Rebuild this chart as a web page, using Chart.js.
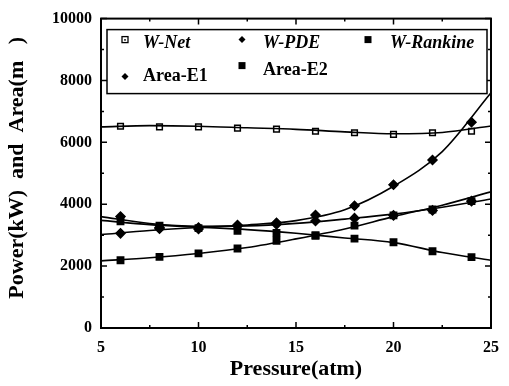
<!DOCTYPE html>
<html lang="en">
<head>
  <meta charset="UTF-8">
  <title>Power and Area vs Pressure</title>
  <script src="https://cdn.jsdelivr.net/npm/chart.js"></script>
  <style>
    html, body { margin: 0; padding: 0; background: #fff; }
    #wrap { width: 509px; height: 386px; }
  </style>
</head>
<body>
  <div id="wrap"><canvas id="powerChart" width="509" height="386"></canvas></div>

  <script>
    // measured points (pressure in atm)
    const pressure = [6, 8, 10, 12, 14, 16, 18, 20, 22, 24];
    const wNet     = [6520, 6500, 6500, 6460, 6430, 6360, 6310, 6260, 6310, 6360];
    const wPde     = [3060, 3210, 3250, 3330, 3400, 3650, 3950, 4630, 5430, 6650];
    const wRankine = [3450, 3310, 3230, 3140, 3070, 2990, 2890, 2770, 2480, 2290];
    const areaE1   = [3600, 3250, 3200, 3300, 3350, 3460, 3550, 3640, 3800, 4100];
    const areaE2   = [2190, 2300, 2410, 2570, 2820, 2990, 3310, 3640, 3830, 4100];

    // fitted curves
    const fitPressure = [5, 7.5, 10, 12.5, 15, 17.5, 20, 22.5, 25];
    const fitWNet     = [6500, 6540, 6520, 6470, 6420, 6340, 6280, 6320, 6530];
    const fitWPde     = [3020, 3150, 3250, 3330, 3470, 3820, 4580, 5700, 7600];
    const fitWRankine = [3480, 3340, 3260, 3180, 3060, 2910, 2760, 2440, 2190];
    const fitAreaE1   = [3600, 3380, 3290, 3300, 3380, 3520, 3680, 3900, 4170];
    const fitAreaE2   = [2170, 2270, 2410, 2600, 2880, 3200, 3600, 3970, 4400];

    const xTicks = [5, 10, 15, 20, 25];
    const yTicks = [0, 2000, 4000, 6000, 8000, 10000];

    const serif = '"Liberation Serif", "Times New Roman", serif';

    function pts(xs, ys) {
      return xs.map((x, i) => ({ x: x, y: ys[i] }));
    }

    function markers(label, ys, style, radius, fill) {
      return {
        label: label,
        data: pts(pressure, ys),
        showLine: false,
        pointStyle: style,
        pointRadius: radius,
        pointBackgroundColor: fill,
        pointBorderColor: '#000',
        pointBorderWidth: 1.5
      };
    }

    function curve(label, ys) {
      return {
        label: label + ' fit',
        data: pts(fitPressure, ys),
        showLine: true,
        pointRadius: 0,
        borderColor: '#000',
        borderWidth: 1.6,
        cubicInterpolationMode: 'monotone',
        fill: false
      };
    }

    // frame with inward ticks on all four sides
    const frame = {
      id: 'frame',
      afterDraw(chart) {
        const { ctx, chartArea: a, scales: { x, y } } = chart;
        ctx.save();
        ctx.strokeStyle = '#000';
        ctx.lineWidth = 2;
        ctx.strokeRect(a.left, a.top, a.right - a.left, a.bottom - a.top);
        ctx.lineWidth = 1.5;
        ctx.beginPath();
        for (let v = 5; v <= 25; v += 2.5) {
          const px = x.getPixelForValue(v);
          const len = v % 5 === 0 ? 6 : 3;
          ctx.moveTo(px, a.bottom); ctx.lineTo(px, a.bottom - len);
          ctx.moveTo(px, a.top); ctx.lineTo(px, a.top + len);
        }
        for (let v = 0; v <= 10000; v += 1000) {
          const py = y.getPixelForValue(v);
          const len = v % 2000 === 0 ? 6 : 3;
          ctx.moveTo(a.left, py); ctx.lineTo(a.left + len, py);
          ctx.moveTo(a.right, py); ctx.lineTo(a.right - len, py);
        }
        ctx.stroke();
        ctx.restore();
      }
    };

    // boxed legend in the top of the plot
    const boxLegend = {
      id: 'boxLegend',
      afterDraw(chart) {
        const { ctx, chartArea: a } = chart;
        const l = a.left, t = a.top;
        ctx.save();
        ctx.fillStyle = '#fff';
        ctx.strokeStyle = '#000';
        ctx.lineWidth = 1.5;
        ctx.fillRect(l + 6, t + 11, a.right - l - 10, 64);
        ctx.strokeRect(l + 6, t + 11, a.right - l - 10, 64);

        const items = [
          { text: 'W-Net', mx: 24, my: 21, tx: 42, ty: 25, kind: 'open', italic: true },
          { text: 'W-PDE', mx: 141, my: 21, tx: 162, ty: 25, kind: 'diamond', italic: true },
          { text: 'W-Rankine', mx: 267, my: 21, tx: 289, ty: 25, kind: 'square', italic: true },
          { text: 'Area-E1', mx: 24, my: 58, tx: 42, ty: 58, kind: 'diamond', italic: false },
          { text: 'Area-E2', mx: 141, my: 47, tx: 162, ty: 52, kind: 'square', italic: false }
        ];
        ctx.textBaseline = 'middle';
        ctx.textAlign = 'left';
        items.forEach(it => {
          const mx = l + it.mx, my = t + it.my;
          ctx.fillStyle = '#000';
          ctx.beginPath();
          if (it.kind === 'open') {
            ctx.lineWidth = 1.3;
            ctx.strokeRect(mx - 3, my - 3, 6, 6);
            ctx.fillRect(mx - 0.8, my - 0.5, 1.6, 1.6);
          } else if (it.kind === 'diamond') {
            ctx.moveTo(mx, my - 3.5); ctx.lineTo(mx + 3.5, my);
            ctx.lineTo(mx, my + 3.5); ctx.lineTo(mx - 3.5, my);
            ctx.closePath(); ctx.fill();
          } else {
            ctx.fillRect(mx - 3.5, my - 3.5, 7, 7);
          }
          ctx.font = (it.italic ? 'italic ' : '') + 'bold 18px ' + serif;
          ctx.fillText(it.text, l + it.tx, t + it.ty);
        });
        ctx.restore();
      }
    };

    const ctx = document.getElementById('powerChart').getContext('2d');
    new Chart(ctx, {
      type: 'scatter',
      data: {
        datasets: [
          curve('W-Net', fitWNet),
          curve('W-PDE', fitWPde),
          curve('W-Rankine', fitWRankine),
          curve('Area-E1', fitAreaE1),
          curve('Area-E2', fitAreaE2),
          markers('W-Net', wNet, 'rect', 4, '#fff'),
          markers('W-PDE', wPde, 'rectRot', 4.5, '#000'),
          markers('W-Rankine', wRankine, 'rect', 4.5, '#000'),
          markers('Area-E1', areaE1, 'rectRot', 4.5, '#000'),
          markers('Area-E2', areaE2, 'rect', 4.5, '#000')
        ]
      },
      options: {
        responsive: false,
        animation: false,
        layout: { padding: { top: 14, right: 12, left: 0, bottom: 0 } },
        plugins: {
          legend: { display: false },
          tooltip: { enabled: false }
        },
        scales: {
          x: {
            type: 'linear',
            min: 5,
            max: 25,
            afterBuildTicks: s => { s.ticks = xTicks.map(v => ({ value: v })); },
            afterFit: s => { s.height = 58; },
            grid: { display: false, drawTicks: false },
            border: { display: false },
            ticks: {
              color: '#000',
              padding: 10,
              callback: v => String(v),
              font: { family: serif, size: 16, weight: 'bold' }
            },
            title: {
              display: true,
              text: 'Pressure(atm)',
              color: '#000',
              padding: { top: 0, bottom: 3 },
              font: { family: serif, size: 22, weight: 'bold' }
            }
          },
          y: {
            min: 0,
            max: 10000,
            afterBuildTicks: s => { s.ticks = yTicks.map(v => ({ value: v })); },
            afterFit: s => { s.width = 101; },
            grid: { display: false, drawTicks: false },
            border: { display: false },
            ticks: {
              color: '#000',
              padding: 9,
              callback: v => String(v),
              font: { family: serif, size: 16, weight: 'bold' }
            },
            title: {
              display: true,
              text: '  Power(kW)  and  Area(m   )',
              color: '#000',
              padding: { top: 4, bottom: 0 },
              font: { family: serif, size: 22, weight: 'bold' }
            }
          }
        }
      },
      plugins: [frame, boxLegend]
    });
  </script>
</body>
</html>
